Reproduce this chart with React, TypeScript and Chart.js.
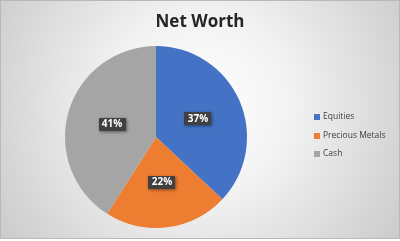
import React, { useEffect, useRef } from "react";
import { Chart, registerables } from "chart.js";

Chart.register(...registerables);

const titleText = "Net Worth";
const categories = ["Equities", "Precious Metals", "Cash"];
const values = [37, 22, 41];
const percentLabels = ["37%", "22%", "41%"];
const colors = ["#4472C4", "#ED7D31", "#A5A5A5"];

const FONT = "'Open Sans', 'Liberation Sans', sans-serif";

const decorPlugin = {
  id: "decor",
  beforeDraw(chart: any) {
    const ctx = chart.ctx as CanvasRenderingContext2D;
    const w = chart.width;
    const h = chart.height;
    ctx.save();
    ctx.fillStyle = "#ffffff";
    ctx.fillRect(0, 0, w, h);
    const g = ctx.createRadialGradient(200, 105, 0, 200, 105, 250);
    g.addColorStop(0, "#ffffff");
    g.addColorStop(0.35, "#f3f3f3");
    g.addColorStop(1, "#c8c8c8");
    ctx.fillStyle = g;
    ctx.fillRect(1, 0, w - 2, h - 2);
    ctx.strokeStyle = "#b8b8b8";
    ctx.lineWidth = 1;
    ctx.strokeRect(0.5, 0.5, w - 1, h - 3);
    // title
    ctx.fillStyle = "#262626";
    ctx.font = `bold 17px ${FONT}`;
    ctx.textAlign = "center";
    ctx.textBaseline = "middle";
    ctx.fillText(titleText, 200, 22);
    ctx.restore();
  },
  afterDraw(chart: any) {
    const ctx = chart.ctx as CanvasRenderingContext2D;
    const meta = chart.getDatasetMeta(0);
    ctx.save();
    // data labels
    meta.data.forEach((arc: any, i: number) => {
      const p = arc.tooltipPosition();
      const bw = 27;
      const bh = 13;
      ctx.save();
      ctx.shadowColor = "rgba(0,0,0,0.45)";
      ctx.shadowBlur = 3;
      ctx.shadowOffsetX = 1;
      ctx.shadowOffsetY = 1;
      ctx.fillStyle = "#404040";
      ctx.fillRect(Math.round(p.x - bw / 2), Math.round(p.y - bh / 2), bw, bh);
      ctx.restore();
      ctx.fillStyle = "#ffffff";
      ctx.font = `bold 10px ${FONT}`;
      ctx.textAlign = "center";
      ctx.textBaseline = "middle";
      ctx.fillText(percentLabels[i], Math.round(p.x), Math.round(p.y) + 0.5);
    });
    // legend
    const lx = 314;
    const ys = [117, 136, 154];
    categories.forEach((c, i) => {
      ctx.fillStyle = colors[i];
      ctx.fillRect(lx, ys[i] - 3, 6, 6);
      ctx.fillStyle = "#404040";
      ctx.font = `8.5px ${FONT}`;
      ctx.textAlign = "left";
      ctx.textBaseline = "middle";
      ctx.fillText(c, lx + 9, ys[i]);
    });
    ctx.restore();
  },
};

export default function App() {
  const ref = useRef<HTMLCanvasElement | null>(null);
  useEffect(() => {
    if (!ref.current) return;
    const chart = new Chart(ref.current, {
      type: "pie",
      data: {
        labels: categories,
        datasets: [
          {
            data: values,
            backgroundColor: colors,
            borderWidth: 0,
          },
        ],
      },
      options: {
        animation: false,
        responsive: false,
        maintainAspectRatio: false,
        layout: { padding: { left: 65, right: 153, top: 46, bottom: 13 } },
        plugins: {
          legend: { display: false },
          title: { display: false },
          tooltip: { enabled: false },
        },
      },
      plugins: [decorPlugin],
    });
    return () => chart.destroy();
  }, []);
  return (
    <div style={{ position: "fixed", left: 0, top: 0, width: 400, height: 241 }}>
      <canvas ref={ref} width={400} height={241} style={{ display: "block" }} />
    </div>
  );
}
